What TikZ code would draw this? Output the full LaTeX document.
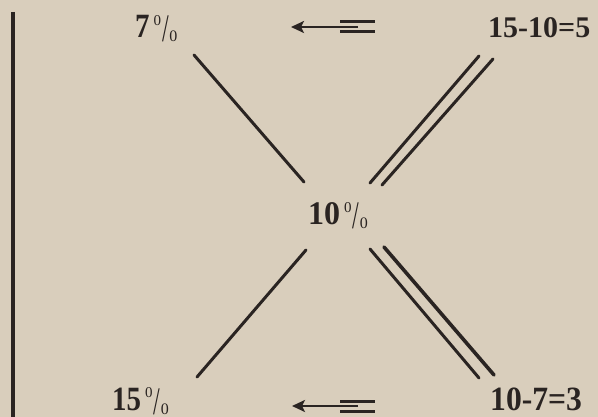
\documentclass[tikz,border=0pt]{standalone}
\usepackage{fontspec}
\setmainfont{Liberation Serif}
\usetikzlibrary{arrows.meta}
\definecolor{paper}{HTML}{D9CEBC}
\definecolor{ink}{HTML}{2A2422}
\newcommand\pcsign{\kern4pt\raisebox{12.5pt}{\fontsize{15}{15}\selectfont\mdseries 0}\kern1pt\raisebox{-4pt}{\fontsize{30}{30}\selectfont\mdseries\scalebox{0.8}[1.3]{/}}\kern0.5pt\raisebox{-4pt}{\fontsize{16}{16}\selectfont\mdseries 0}}
\tikzset{
  lbl/.style={inner sep=0pt, anchor=base west, text=ink},
  bar/.style={draw=ink, line width=3pt, line cap=round},
  thin/.style={draw=ink, line width=2.4pt},
  arr/.style={draw=ink, line width=2.4pt, -{Stealth[length=13pt,width=12pt,inset=3pt]}},
}
\begin{document}
\begin{tikzpicture}[x=1pt,y=-1pt]
\fill[paper] (0,0) rectangle (598,417);
\useasboundingbox (0,0) rectangle (598,417);
% vertical rule
\coordinate (v1) at (13,12);
\coordinate (v2) at (13,417);
\draw[draw=ink, line width=3.5pt] (v1) -- (v2);
% labels
\node[lbl] (p7) at (135,38) {\fontsize{34}{34}\selectfont\bfseries\scalebox{0.85}[1]{7}\pcsign};
\node[lbl] (r1) at (488,38) {\fontsize{30}{30}\selectfont\bfseries 15-10=5};
\node[lbl] (p10) at (308,225) {\fontsize{33}{33}\selectfont\bfseries\scalebox{0.97}[1]{10}\pcsign};
\node[lbl] (p15) at (112,410) {\fontsize{34}{34}\selectfont\bfseries\scalebox{0.85}[1]{15}\pcsign};
\node[lbl] (r2) at (490,410) {\fontsize{34}{34}\selectfont\bfseries\scalebox{0.93}[1]{10-7=3}};
% cross lines
\coordinate (a1) at (194,55);  \coordinate (a2) at (304,182);
\coordinate (b1) at (306,250); \coordinate (b2) at (197,377);
\coordinate (c1) at (479,56);  \coordinate (c2) at (370,183);
\coordinate (d1) at (493,59);  \coordinate (d2) at (382,185);
\coordinate (e1) at (370,249); \coordinate (e2) at (479,378);
\coordinate (f1) at (384,247); \coordinate (f2) at (494,375);
\draw[bar] (a1) -- (a2);
\draw[bar] (b1) -- (b2);
\draw[bar] (c1) -- (c2);
\draw[bar] (d1) -- (d2);
\draw[bar] (e1) -- (e2);
\draw[bar, line width=3.6pt] (f1) -- (f2);
% top arrow
\coordinate (t0) at (358,27); \coordinate (t1) at (291,27);
\coordinate (t2) at (340,22); \coordinate (t3) at (375,22);
\coordinate (t4) at (340,32); \coordinate (t5) at (375,32);
\draw[arr] (t0) -- (t1);
\draw[thin, line width=3pt] (t2) -- (t3);
\draw[thin, line width=3pt] (t4) -- (t5);
% bottom arrow
\coordinate (s0) at (358,406); \coordinate (s1) at (292,406);
\coordinate (s2) at (340,401); \coordinate (s3) at (375,401);
\coordinate (s4) at (340,411); \coordinate (s5) at (375,411);
\draw[arr] (s0) -- (s1);
\draw[thin, line width=3pt] (s2) -- (s3);
\draw[thin, line width=3pt] (s4) -- (s5);
\end{tikzpicture}
\end{document}
